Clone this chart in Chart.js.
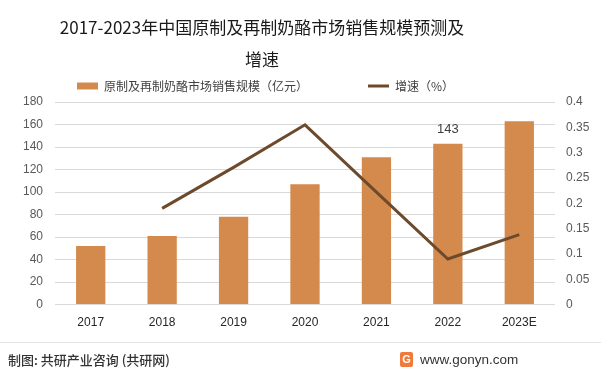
<!DOCTYPE html>
<html>
<head>
<meta charset="utf-8">
<script src="https://cdn.jsdelivr.net/npm/chart.js@4"></script>
<style>
  html, body { margin: 0; padding: 0; background: #ffffff; }
  #wrap { width: 601px; height: 374px; position: relative; }
</style>
</head>
<body>
<div id="wrap"><canvas id="c" width="601" height="374"></canvas></div>
<script>
// ---- data ----
const categories = ['2017', '2018', '2019', '2020', '2021', '2022', '2023E'];
const salesValues = [52, 61, 78, 107, 131, 143, 163];          // 亿元
const growthRates = [null, 0.19, 0.271, 0.355, 0.222, 0.09, 0.138];
const labeledCategories = ['2022'];
const salesLabel = '原制及再制奶酪市场销售规模（亿元）';
const growthLabel = '增速（%）';
const titleLines = ['2017-2023年中国原制及再制奶酪市场销售规模预测及', '增速'];
const sourceText = '制图: 共研产业咨询 (共研网)';
const siteText = 'www.gonyn.com';
const leftAxisMax = 180, leftAxisStep = 20;
const rightAxisMax = 0.4, rightAxisStep = 0.05;

const CJK = '"Noto Sans CJK SC", "Noto Sans", sans-serif';
const BAR_COLOR = '#d48a4d';
const LINE_COLOR = '#6d4a2c';

const decorPlugin = {
  id: 'decor',
  afterDraw(chart) {
    const ctx = chart.ctx;
    ctx.save();
    // title
    ctx.fillStyle = '#1a1a1a';
    ctx.font = '17px ' + CJK;
    ctx.textAlign = 'center';
    ctx.textBaseline = 'middle';
    ctx.fillText(titleLines[0], 262, 28);
    ctx.fillText(titleLines[1], 262, 60);
    // footer separator
    ctx.strokeStyle = '#e3e3e3';
    ctx.lineWidth = 1;
    ctx.beginPath();
    ctx.moveTo(0, 342.5);
    ctx.lineTo(chart.width, 342.5);
    ctx.stroke();
    // footer source
    ctx.fillStyle = '#333333';
    ctx.font = '500 13px ' + CJK;
    ctx.textAlign = 'left';
    ctx.fillText(sourceText, 8, 360);
    // logo
    ctx.fillStyle = '#ef7a3a';
    ctx.beginPath();
    ctx.roundRect(400, 352, 13, 15, 2);
    ctx.fill();
    ctx.fillStyle = '#ffffff';
    ctx.font = 'bold 11px "Liberation Sans", sans-serif';
    ctx.textAlign = 'center';
    ctx.fillText('G', 406.5, 360);
    // site
    ctx.fillStyle = '#333333';
    ctx.font = '13.5px "Liberation Sans", "DejaVu Sans", sans-serif';
    ctx.textAlign = 'left';
    ctx.fillText(siteText, 420, 360);
    ctx.restore();
  },
  afterDatasetsDraw(chart) {
    const ctx = chart.ctx;
    const meta = chart.getDatasetMeta(0);
    ctx.save();
    ctx.fillStyle = '#404040';
    ctx.font = '13px "Liberation Sans", sans-serif';
    ctx.textAlign = 'center';
    ctx.textBaseline = 'middle';
    labeledCategories.forEach(cat => {
      const i = categories.indexOf(cat);
      const el = meta.data[i];
      ctx.fillText(String(salesValues[i]), el.x, el.y - 14);
    });
    ctx.restore();
  }
};

new Chart(document.getElementById('c'), {
  data: {
    labels: categories,
    datasets: [
      {
        type: 'bar',
        label: salesLabel,
        data: salesValues,
        backgroundColor: BAR_COLOR,
        borderWidth: 0,
        barPercentage: 0.41,
        categoryPercentage: 1,
        yAxisID: 'y',
        order: 2,
        pointStyle: 'rect'
      },
      {
        type: 'line',
        label: growthLabel,
        data: growthRates,
        borderColor: LINE_COLOR,
        backgroundColor: LINE_COLOR,
        borderWidth: 3,
        pointRadius: 0,
        pointHoverRadius: 0,
        tension: 0,
        yAxisID: 'y1',
        order: 1,
        pointStyle: 'line'
      }
    ]
  },
  options: {
    responsive: false,
    devicePixelRatio: 1,
    animation: false,
    layout: { padding: { top: 20, left: 17, right: 0, bottom: 33 } },
    plugins: {
      title: { display: false },
      tooltip: { enabled: false },
      legend: {
        display: true,
        position: 'top',
        align: 'start',
        labels: {
          usePointStyle: true,
          pointStyleWidth: 21,
          boxHeight: 7,
          padding: 60,
          color: '#404040',
          font: { size: 12, family: CJK },
          sort: (a, b) => a.datasetIndex - b.datasetIndex
        }
      }
    },
    scales: {
      x: {
        offset: true,
        grid: { display: false, drawTicks: false },
        border: { display: false },
        ticks: { color: '#262626', padding: 11, font: { size: 12, family: '"Liberation Sans", sans-serif' }, maxRotation: 0 }
      },
      y: {
        position: 'left',
        min: 0, max: leftAxisMax,
        grid: { color: '#d9d9d9', lineWidth: 1, drawTicks: false },
        border: { display: false },
        ticks: { stepSize: leftAxisStep, color: '#595959', padding: 12, font: { size: 12, family: '"Liberation Sans", sans-serif' } },
        afterFit(scale) { scale.width = 38; }
      },
      y1: {
        position: 'right',
        min: 0, max: rightAxisMax,
        grid: { display: false, drawTicks: false },
        border: { display: false },
        ticks: {
          stepSize: rightAxisStep, color: '#595959', padding: 11,
          font: { size: 12, family: '"Liberation Sans", sans-serif' },
          callback: v => String(+v.toFixed(2))
        },
        afterFit(scale) { scale.width = 46; }
      }
    }
  },
  plugins: [decorPlugin]
});
</script>
</body>
</html>
